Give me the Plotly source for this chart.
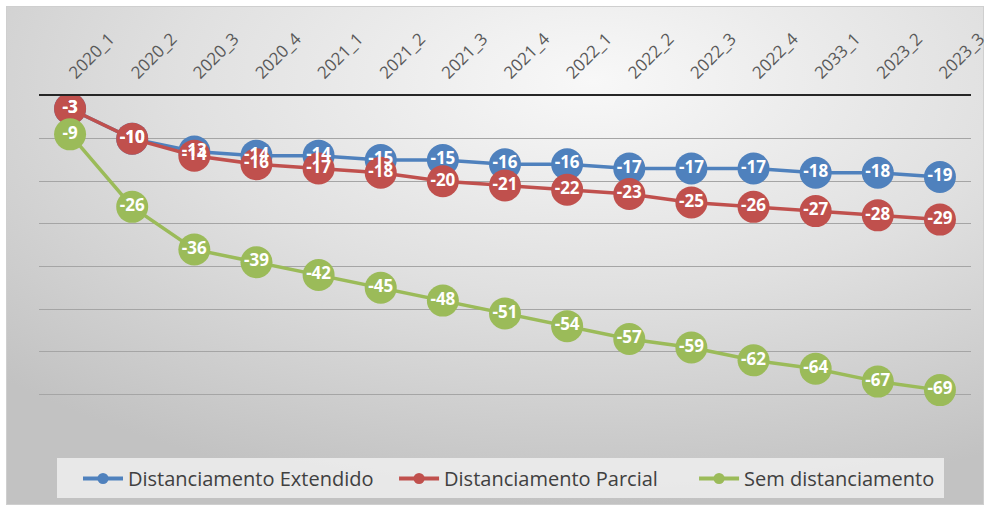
import base64
import plotly.graph_objects as go

categories = ["2020_1", "2020_2", "2020_3", "2020_4", "2021_1", "2021_2", "2021_3", "2021_4",
              "2022_1", "2022_2", "2022_3", "2022_4", "2033_1", "2023_2", "2023_3"]
extendido = [-3, -10, -13, -14, -14, -15, -15, -16, -16, -17, -17, -17, -18, -18, -19]
parcial = [-3, -10, -14, -16, -17, -18, -20, -21, -22, -23, -25, -26, -27, -28, -29]
sem = [-9, -26, -36, -39, -42, -45, -48, -51, -54, -57, -59, -62, -64, -67, -69]

series = [
    ("Distanciamento Extendido", extendido, "#4F81BD"),
    ("Distanciamento Parcial", parcial, "#C0504D"),
    ("Sem distanciamento", sem, "#9BBB59"),
]

W, H = 984, 505
L, R, T, B = 39, 13, 96, 68
pw, ph = W - L - R, H - T - B


def px_x(p):
    return (p - L) / pw


def px_y(p):
    return (T + ph - p) / ph


svg = (
    '<svg xmlns="http://www.w3.org/2000/svg" width="978" height="499" viewBox="0 0 978 499" preserveAspectRatio="none">'
    '<defs><radialGradient id="g" cx="0.6" cy="0.15" r="0.85" fx="0.6" fy="0.15">'
    '<stop offset="0" stop-color="#f8f8f8"/><stop offset="0.5" stop-color="#e0e0e0"/>'
    '<stop offset="1" stop-color="#c2c2c2"/></radialGradient></defs>'
    '<rect x="0.5" y="0.5" width="977" height="498" fill="url(#g)" stroke="#cfcfcf" stroke-width="1"/></svg>'
)
src = "data:image/svg+xml;base64," + base64.b64encode(svg.encode()).decode()

fig = go.Figure()
for name, vals, color in series:
    fig.add_trace(go.Scatter(
        x=categories, y=vals, mode="lines+markers", name=name, showlegend=False,
        line=dict(color=color, width=3.5),
        marker=dict(color=color, size=32, line=dict(width=0)),
        hoverinfo="skip",
    ))
for name, vals, color in series:
    fig.add_trace(go.Scatter(
        x=categories, y=vals, mode="text", showlegend=False,
        text=[str(v) for v in vals], textposition="middle center",
        textfont=dict(family="Open Sans", size=17, color="white", weight="bold"),
        hoverinfo="skip",
    ))
pads = ["\u00a0" * 3, "\u00a0" * 6, ""]
for (name, vals, color), pad in zip(series, pads):
    fig.add_trace(go.Scatter(
        x=[None], y=[None], mode="lines+markers",
        name=name + pad,
        line=dict(color=color, width=4), marker=dict(color=color, size=11),
    ))

fig.update_layout(
    width=W, height=H,
    margin=dict(l=L, r=R, t=T, b=B, pad=0, autoexpand=False),
    paper_bgcolor="white",
    plot_bgcolor="rgba(0,0,0,0)",
    images=[dict(source=src, xref="paper", yref="paper",
                 x=px_x(6), y=px_y(6),
                 sizex=978 / pw, sizey=499 / ph,
                 xanchor="left", yanchor="top", sizing="stretch", layer="below")],
    shapes=[dict(type="rect", xref="paper", yref="paper",
                 x0=px_x(57), x1=px_x(944), y0=px_y(498), y1=px_y(458),
                 fillcolor="rgba(238,238,238,0.85)", line=dict(width=0), layer="below")],
    xaxis=dict(side="top", type="category", range=[-0.5, 14.5], tickangle=-45,
               showgrid=False, showline=True, linecolor="#262626", linewidth=2,
               ticks="", tickfont=dict(family="Open Sans", size=17, color="#595959"),
               ticklabelstandoff=5,
               zeroline=False, automargin=False),
    yaxis=dict(range=[-80, 0], dtick=10, showticklabels=False, ticks="",
               showgrid=True, gridcolor="#a5a5a5", gridwidth=1, zeroline=False,
               showline=False, automargin=False),
    legend=dict(orientation="h", x=px_x(509), xanchor="center",
                y=px_y(459), yanchor="top",
                bgcolor="rgba(0,0,0,0)",
                font=dict(family="Open Sans", size=20, color="#404040"),
                itemwidth=40, tracegroupgap=0),
    showlegend=True,
)

fig.write_html("out.html")
